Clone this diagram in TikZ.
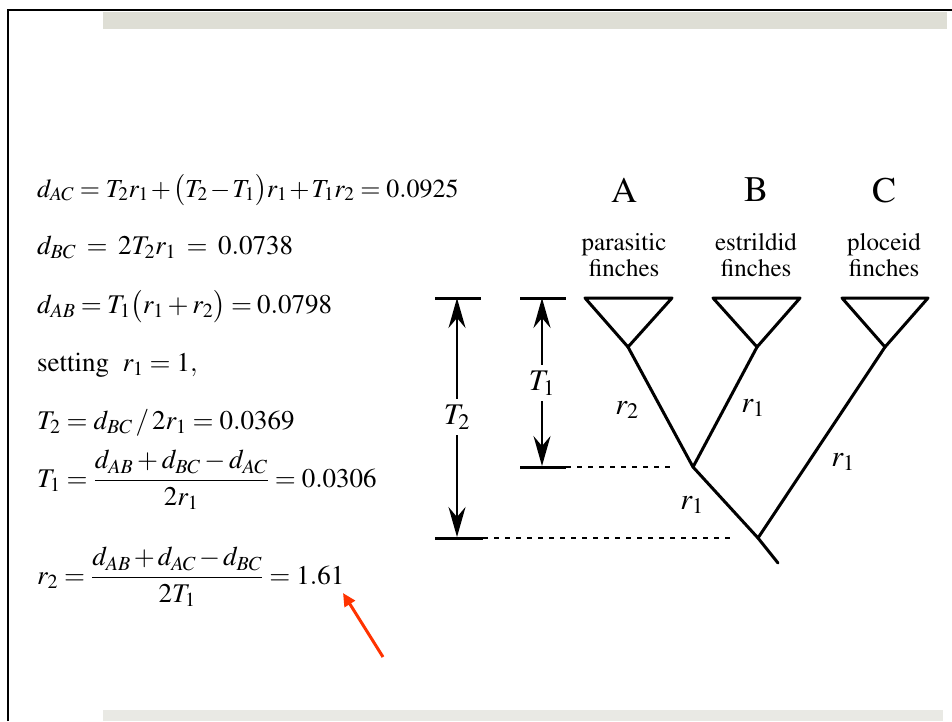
\documentclass[tikz,border=0pt]{standalone}
\usepackage[T1]{fontenc}
\usepackage{mathptmx}
\usetikzlibrary{arrows.meta}
\definecolor{bandtop}{RGB}{222,222,213}
\definecolor{bandbot}{RGB}{233,233,228}
\definecolor{redarrow}{RGB}{255,51,0}
\begin{document}
\begin{tikzpicture}[x=1pt,y=-1pt,
  eq/.style={inner sep=0pt,font=\fontsize{27}{32}\selectfont},
  taxon/.style={inner sep=0pt,align=center,font=\fontsize{25}{26}\selectfont},
  bigletter/.style={inner sep=0pt,font=\fontsize{36}{40}\selectfont},
  tlabel/.style={inner sep=0pt,font=\fontsize{30}{34}\selectfont},
  branch/.style={line width=3pt,line cap=round,line join=round},
  bar/.style={line width=3pt},
  dimarrow/.style={line width=2pt,-{Stealth[length=30pt,width=17pt,inset=10pt]}},
  dotline/.style={line width=2.5pt,dash pattern=on 5pt off 6pt}]
\useasboundingbox (0,0) rectangle (952,721);
\fill[white] (0,0) rectangle (952,721);
% frame and bands
\fill[bandtop] (103,12) rectangle (947,29);
\fill[bandbot] (103,710) rectangle (943,721);
\draw[line width=2.5pt] (8,721) -- (8,10) -- (952,10);

% equations
\node[eq,anchor=base west,font=\fontsize{26}{31}\selectfont] (e1) at (37,197) {$\medmuskip=1.5mu\thickmuskip=4mu d_{AC} = T_2r_1 + \bigl(T_2 - T_1\bigr)r_1 + T_1r_2 = 0.0925$};
\node[eq,anchor=base west] (e2) at (37,254) {$\thickmuskip=7mu d_{BC} = 2T_2r_1 = 0.0738$};
\node[eq,anchor=base west] (e3) at (37,313) {$\thickmuskip=3.5mu d_{AB} = T_1\bigl(r_1 + r_2\bigr) = 0.0798$};
\node[eq,anchor=base west] (e4) at (37,371) {setting\ \ $r_1 = 1,$};
\node[eq,anchor=base west] (e5) at (37,429) {$\thickmuskip=4mu T_2 = d_{BC}\,/\,2r_1 = 0.0369$};
\node[eq,anchor=west] (e6) at (37,480) {$\displaystyle T_1 = \frac{d_{AB} + d_{BC} - d_{AC}}{2r_1} = 0.0306$};
\node[eq,anchor=west] (e7) at (37,577) {$\displaystyle\medmuskip=2mu r_2 = \frac{d_{AB} + d_{AC} - d_{BC}}{2T_1} = 1.61$};

% red arrow
\coordinate (redtail) at (383,657);
\coordinate (redtip) at (343,593);
\draw[redarrow,line width=3pt,-{Triangle[length=13pt,width=12pt]}] (redtail) -- (redtip);

% taxa labels
\node[bigletter] (A) at (624,190) {A};
\node[bigletter] (B) at (756,190) {B};
\node[bigletter] (C) at (884,190) {C};
\node[taxon] (An) at (624,255) {parasitic\\finches};
\node[taxon] (Bn) at (756,255) {estrildid\\finches};
\node[taxon] (Cn) at (884,255) {ploceid\\finches};

% tree vertices
\coordinate (a1) at (585,298); \coordinate (a2) at (672,298); \coordinate (aa) at (628,347);
\coordinate (b1) at (713,298); \coordinate (b2) at (800,298); \coordinate (ba) at (757,347);
\coordinate (c1) at (842,298); \coordinate (c2) at (928,298); \coordinate (ca) at (885,347);
\coordinate (ab) at (693,467);
\coordinate (root) at (758,538);
\coordinate (stem) at (778,563);
\draw[branch] (a1) -- (a2) -- (aa) -- cycle;
\draw[branch] (b1) -- (b2) -- (ba) -- cycle;
\draw[branch] (c1) -- (c2) -- (ca) -- cycle;
\draw[branch] (aa) -- (ab) -- (ba);
\draw[branch] (ab) -- (root) -- (ca);
\draw[branch] (root) -- (stem);

% time bars
\coordinate (t2a) at (435,298); \coordinate (t2b) at (481,298);
\coordinate (t2c) at (435,538); \coordinate (t2d) at (483,538);
\coordinate (t2e) at (735,538);
\coordinate (t1a) at (520,298); \coordinate (t1b) at (566,298);
\coordinate (t1c) at (520,467); \coordinate (t1d) at (566,467);
\coordinate (t1e) at (670,467);
\draw[bar] (t2a) -- (t2b);
\draw[bar] (t2c) -- (t2d);
\draw[bar] (t1a) -- (t1b);
\draw[bar] (t1c) -- (t1d);
\draw[dotline] (t2d) -- (t2e);
\draw[dotline] (t1d) -- (t1e);

% dimension arrows
\node[tlabel] (T2) at (457,417) {$T_2$};
\node[tlabel] (T1) at (542,383) {$T_1$};
\coordinate (t2top) at (457,298); \coordinate (t2bot) at (457,537);
\coordinate (t1top) at (542,298); \coordinate (t1bot) at (542,466);
\draw[dimarrow] (T2.north) ++(0,-6) -- (t2top);
\draw[dimarrow] (T2.south) ++(0,6) -- (t2bot);
\draw[dimarrow] (T1.north) ++(0,-6) -- (t1top);
\draw[dimarrow] (T1.south) ++(0,6) -- (t1bot);

% branch labels
\node[tlabel] (lr2) at (627,410) {$r_2$};
\node[tlabel] (lr1b) at (753,408) {$r_1$};
\node[tlabel] (lr1ab) at (692,505) {$r_1$};
\node[tlabel] (lr1c) at (843,462) {$r_1$};
\end{tikzpicture}
\end{document}
